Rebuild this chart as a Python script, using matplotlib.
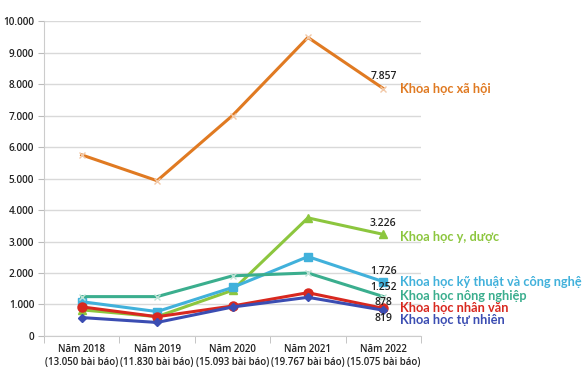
import matplotlib
matplotlib.use("Agg")
import matplotlib.pyplot as plt
from matplotlib.ticker import FuncFormatter, FixedLocator

plt.rcParams['font.family'] = ['Open Sans', 'DejaVu Sans']

years = ["Năm 2018", "Năm 2019", "Năm 2020", "Năm 2021", "Năm 2022"]
totals = ["13.050", "11.830", "15.093", "19.767", "15.075"]

xa_hoi = [5750, 4930, 7000, 9480, 7857]
y_duoc = [830, 615, 1450, 3750, 3226]
ky_thuat = [1090, 775, 1540, 2520, 1726]
nong_nghiep = [1250, 1250, 1910, 2000, 1252]
nhan_van = [925, 612, 952, 1375, 878]
tu_nhien = [585, 430, 920, 1228, 819]

series = [
    ("Khoa học xã hội", xa_hoi, "#E07A22", "x", "7.857"),
    ("Khoa học y, dược", y_duoc, "#8CC63E", "^", "3.226"),
    ("Khoa học kỹ thuật và công nghệ", ky_thuat, "#41B1DB", "s", "1.726"),
    ("Khoa học nông nghiệp", nong_nghiep, "#3BAE8E", "x", "1.252"),
    ("Khoa học nhân văn", nhan_van, "#D8281F", "o", "878"),
    ("Khoa học tự nhiên", tu_nhien, "#3B4DB2", "D", "819"),
]

fig = plt.figure(figsize=(5.85, 3.76), dpi=100)
ax = fig.add_axes([0.0752, 0.1064, 0.6445, 0.8377])

x = list(range(len(years)))
for name, vals, col, mk, lab in series:
    if mk == "x":
        ax.plot(x, vals, color=col, lw=2.2, marker=mk, ms=5, mew=1.0,
                mec="#F2C9A8" if col == "#E07A22" else "#BFE3D6", zorder=3)
    else:
        ms = {"^": 6, "s": 5.5, "o": 6.5, "D": 4}[mk]
        ax.plot(x, vals, color=col, lw=2.2, marker=mk, ms=ms, zorder=3)

# value labels at last point
lab_off = {"7.857": (0, 8.5), "3.226": (0, 7.5), "1.726": (0, 7.5),
           "1.252": (0, 6.5), "878": (0, 4.5), "819": (0, -6)}
for name, vals, col, mk, lab in series:
    dx, dy = lab_off[lab]
    ax.annotate(lab, (x[-1], vals[-1]), xytext=(dx, dy), textcoords="offset points",
                ha="center", va="center", fontsize=7.5, color="#222222", fontweight="semibold")

name_y = {"Khoa học xã hội": 7840, "Khoa học y, dược": 3143,
          "Khoa học kỹ thuật và công nghệ": 1714, "Khoa học nông nghiệp": 1270,
          "Khoa học nhân văn": 890, "Khoa học tự nhiên": 500}
for name, vals, col, mk, lab in series:
    ax.annotate(name, (x[-1], name_y[name]), xytext=(12, 0), textcoords="offset points",
                ha="left", va="center", fontsize=9.2, color=col, fontweight="bold",
                family=["Lato", "DejaVu Sans"], annotation_clip=False)

ax.set_xlim(-0.5, len(years) - 0.5)
ax.set_ylim(0, 10000)
ax.set_yticks(range(0, 10001, 1000))
ax.yaxis.set_major_formatter(FuncFormatter(lambda v, p: f"{int(v):,}".replace(",", ".")))
ax.set_xticks(x)
ax.set_xticklabels([f"{y}\n({t} bài báo)" for y, t in zip(years, totals)])
ax.xaxis.set_minor_locator(FixedLocator([i - 0.5 for i in range(len(years) + 1)]))
ax.tick_params(axis="x", which="major", length=0, pad=6, labelsize=7, labelcolor="#222222")
ax.tick_params(axis="x", which="minor", length=5, color="#BBBBBB")
ax.tick_params(axis="y", length=4, color="#BBBBBB", labelsize=7.2, labelcolor="#222222", pad=3)
for lbl in ax.get_xticklabels() + ax.get_yticklabels():
    lbl.set_fontweight("semibold")

ax.grid(axis="y", color="#D9D9D9", lw=1)
ax.set_axisbelow(True)
for s in ["top", "right"]:
    ax.spines[s].set_visible(False)
ax.spines["left"].set_color("#CCCCCC")
ax.spines["bottom"].set_color("#CCCCCC")

fig.savefig("out.png", dpi=100)
